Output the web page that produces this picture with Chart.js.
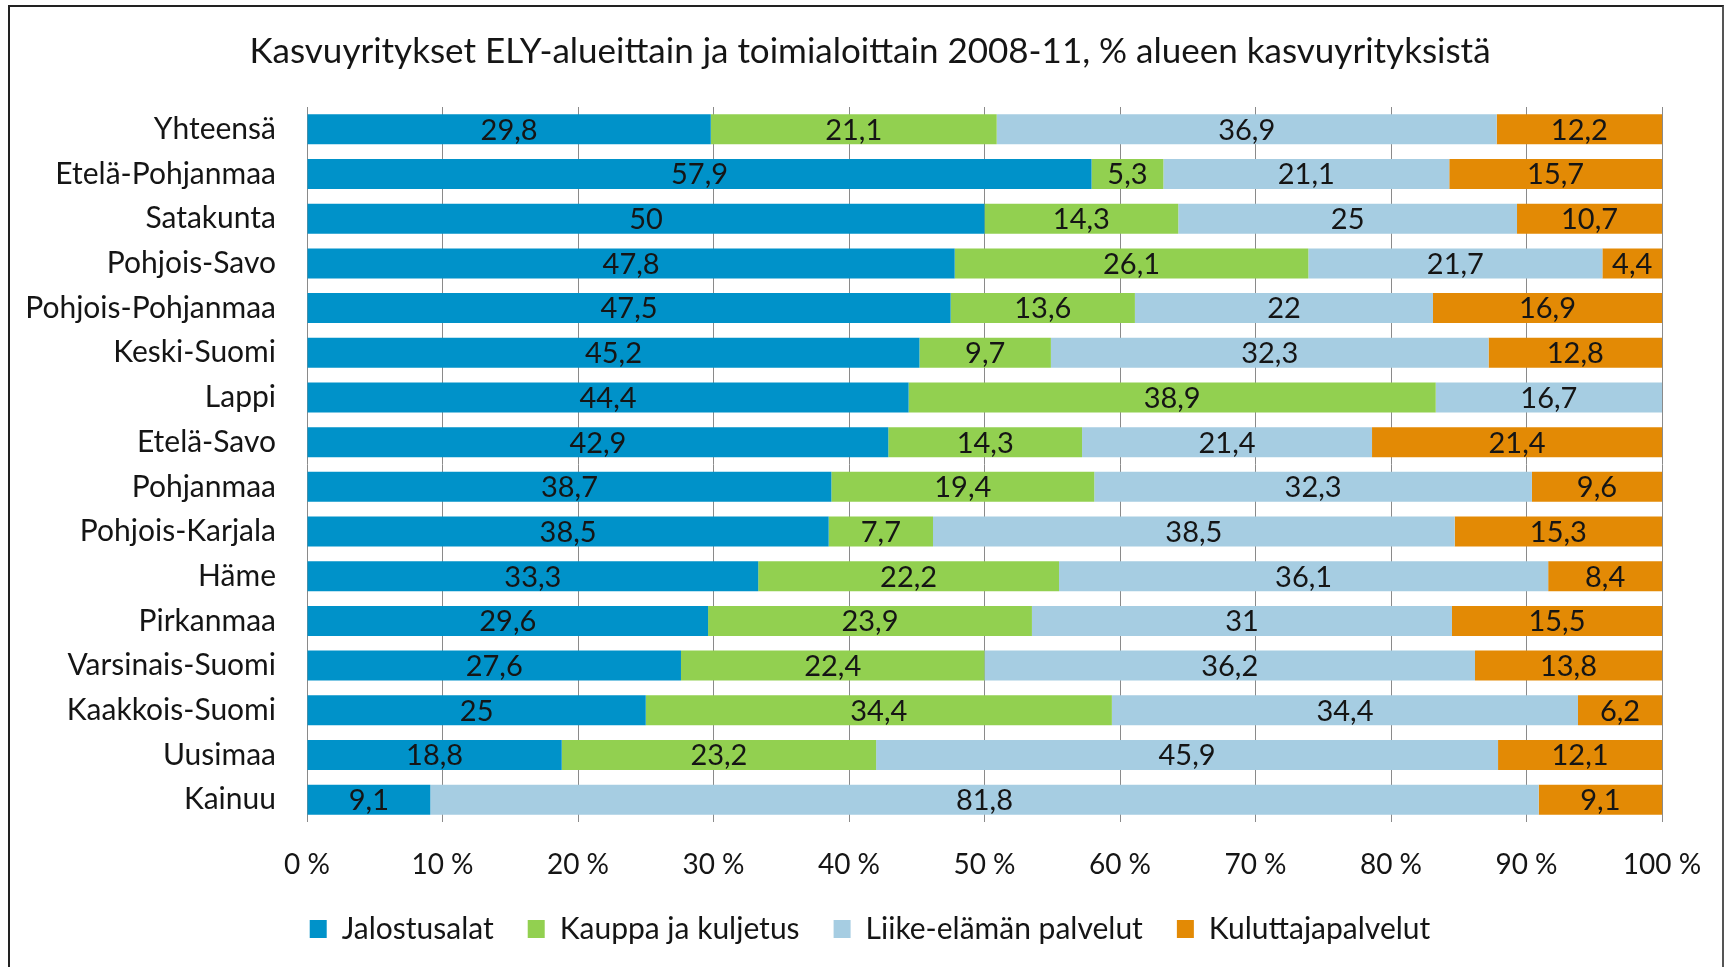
<!DOCTYPE html>
<html>
<head>
<meta charset="utf-8">
<script src="https://cdn.jsdelivr.net/npm/chart.js@4"></script>
<style>
  body { margin: 0; background: #fff; overflow: hidden; }
  #frame { position: absolute; left: 8px; top: 5px; width: 1716px; height: 1000px; border: 2px solid #222; border-right-color: #555; box-sizing: border-box; }
  #wrap { position: absolute; left: 0; top: 0; width: 1728px; height: 967px; }
</style>
</head>
<body>
<div id="frame"></div>
<div id="wrap"><canvas id="chart"></canvas></div>
<script>
// alueet ylhaalta alas
var alueet = ["Yhteensä", "Etelä-Pohjanmaa", "Satakunta", "Pohjois-Savo", "Pohjois-Pohjanmaa",
  "Keski-Suomi", "Lappi", "Etelä-Savo", "Pohjanmaa", "Pohjois-Karjala", "Häme",
  "Pirkanmaa", "Varsinais-Suomi", "Kaakkois-Suomi", "Uusimaa", "Kainuu"];

var jalostusalat = [29.8, 57.9, 50, 47.8, 47.5, 45.2, 44.4, 42.9, 38.7, 38.5, 33.3, 29.6, 27.6, 25, 18.8, 9.1];
var kauppa = [21.1, 5.3, 14.3, 26.1, 13.6, 9.7, 38.9, 14.3, 19.4, 7.7, 22.2, 23.9, 22.4, 34.4, 23.2, null];
var liike = [36.9, 21.1, 25, 21.7, 22, 32.3, 16.7, 21.4, 32.3, 38.5, 36.1, 31, 36.2, 34.4, 45.9, 81.8];
var kuluttaja = [12.2, 15.7, 10.7, 4.4, 16.9, 12.8, null, 21.4, 9.6, 15.3, 8.4, 15.5, 13.8, 6.2, 12.1, 9.1];

var tickLabels = ["0 %", "10 %", "20 %", "30 %", "40 %", "50 %", "60 %", "70 %", "80 %", "90 %", "100 %"];

var fontName = "Lato";

var ctx = document.getElementById("chart").getContext("2d");

// leveimman aluenimen leveys, jotta nimet saadaan oikeaan reunaan (mirror-tila ei leikkaa tekstia)
ctx.font = "30px " + fontName;
var widest = 0;
alueet.forEach(function (a) { widest = Math.max(widest, ctx.measureText(a).width); });

// arvot palkkien keskelle
var valueLabels = {
    id: "valueLabels",
    afterDatasetsDraw: function (chart) {
        var c = chart.ctx;
        c.save();
        c.font = "29px " + fontName;
        c.fillStyle = "#151515";
        c.textAlign = "center";
        c.textBaseline = "middle";
        chart.data.datasets.forEach(function (ds, i) {
            chart.getDatasetMeta(i).data.forEach(function (bar, j) {
                var v = ds.data[j];
                if (v == null) return;
                var p = bar.getProps(["x", "y", "base"], true);
                c.fillText(String(v).replace(".", ","), (p.x + p.base) / 2, p.y + 1);
            });
        });
        c.restore();
    }
};

var myChart = new Chart(ctx, {
    type: "bar",
    data: {
        labels: alueet,
        datasets: [
            { label: "Jalostusalat", data: jalostusalat, backgroundColor: "#0092c9" },
            { label: "Kauppa ja kuljetus", data: kauppa, backgroundColor: "#92d050" },
            { label: "Liike-elämän palvelut", data: liike, backgroundColor: "#a6cde2" },
            { label: "Kuluttajapalvelut", data: kuluttaja, backgroundColor: "#e38a05" }
        ]
    },
    options: {
        indexAxis: "y",
        responsive: true,
        maintainAspectRatio: false,
        animation: false,
        categoryPercentage: 1,
        barPercentage: 0.67,
        layout: { padding: { left: 78, right: 66, top: 0, bottom: 13 } },
        scales: {
            x: {
                stacked: true,
                min: 0,
                max: 100,
                grid: { color: "#8a8a8a", lineWidth: 1, drawTicks: false },
                border: { display: false },
                ticks: {
                    stepSize: 10,
                    padding: 26,
                    color: "#151515",
                    font: { family: fontName, size: 28 },
                    callback: function (value, index) { return tickLabels[index]; }
                },
                afterFit: function (scale) { scale.height = 58; }
            },
            y: {
                stacked: true,
                grid: { display: false, drawTicks: false },
                border: { display: false },
                ticks: {
                    mirror: true,
                    crossAlign: "far",
                    padding: -(31 + widest),
                    color: "#151515",
                    font: { family: fontName, size: 30 }
                },
                afterFit: function (scale) { scale.width = 307 - 78; }
            }
        },
        plugins: {
            title: {
                display: true,
                text: "Kasvuyritykset ELY-alueittain ja toimialoittain 2008-11, % alueen kasvuyrityksistä",
                color: "#151515",
                font: { family: fontName, size: 35, weight: "normal" },
                padding: { top: 31, bottom: 34 }
            },
            legend: {
                position: "bottom",
                labels: {
                    boxWidth: 17,
                    boxHeight: 18,
                    padding: 34,
                    color: "#151515",
                    font: { family: fontName, size: 30 }
                }
            },
            tooltip: { enabled: false }
        }
    },
    plugins: [valueLabels]
});
</script>
</body>
</html>
